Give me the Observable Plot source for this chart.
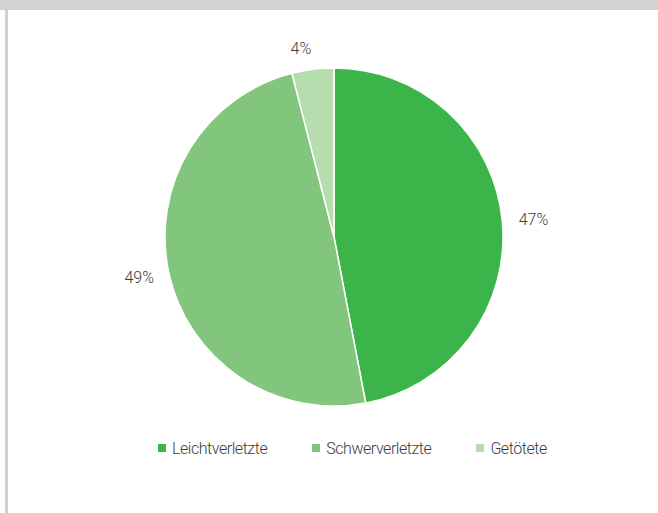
<!DOCTYPE html>
<html><head><meta charset="utf-8">
<script src="https://cdn.jsdelivr.net/npm/d3@7"></script>
<script src="https://cdn.jsdelivr.net/npm/@observablehq/plot@0.6"></script>
<style>
body{margin:0;background:#fff;}
#frame{position:relative;width:658px;height:513px;overflow:hidden;font-family:Roboto, sans-serif;}
#topband{position:absolute;left:0;top:0;width:658px;height:10px;background:#d1d2d4;}
#leftbar{position:absolute;left:5px;top:10px;width:3px;height:503px;background:#d1d2d4;}
#chart{position:absolute;left:0;top:0;}
#legend{position:absolute;left:158px;top:441px;display:flex;gap:45px;font-size:16px;line-height:16px;color:#3c3c3c;font-weight:300;letter-spacing:-0.45px;}
.item{display:flex;align-items:center;}
.sw{width:8px;height:8px;margin-right:6px;margin-top:-3px;}
</style></head><body>
<div id="frame">
<div id="topband"></div><div id="leftbar"></div>
<div id="chart"></div>
<div id="legend"></div>
</div>
<script>
const categories = ["Leichtverletzte", "Schwerverletzte", "Getötete"];
const shares = [47, 49, 4];
const valueLabels = ["47%", "49%", "4%"];
const colors = ["#3bb54a", "#82c67d", "#b5ddae"];

// layout
const W = 658, H = 430, cx = 334, cy = 237, R = 169, labelGap = 16;

const rows = categories.map((c, i) => ({category: c, value: shares[i], label: valueLabels[i], color: colors[i]}));
const arcs = d3.pie().sort(null).value(d => d.value)(rows);

const labelRows = arcs.map(a => {
  const mid = (a.startAngle + a.endAngle) / 2;
  const s = Math.sin(mid), c = Math.cos(mid);
  const k = (R + labelGap) / R;
  return {
    x: s * k, y: -c * k, label: a.data.label,
    textAnchor: s >= 0 ? "start" : "end",
    lineAnchor: c > 0.7 ? "bottom" : c < -0.7 ? "top" : "middle"
  };
});

function pieMark(index, scales) {
  const x0 = scales.x(0), y0 = scales.y(0), r = scales.x(1) - x0;
  const arc = d3.arc().innerRadius(0).outerRadius(r);
  const g = d3.create("svg:g").attr("transform", `translate(${x0},${y0})`);
  g.selectAll("path").data(arcs).join("path")
    .attr("d", arc)
    .attr("fill", d => d.data.color)
    .attr("stroke", "#fff")
    .attr("stroke-width", 1.5)
    .attr("stroke-linejoin", "round");
  return g.node();
}

const textMarks = labelRows.map(d => Plot.text([d], {
  x: "x", y: "y", text: "label",
  textAnchor: d.textAnchor, lineAnchor: d.lineAnchor,
  fontSize: 16, fill: "#3c3c3c", fontFamily: "Roboto", fontWeight: 300
}));

const chart = Plot.plot({
  width: W, height: H,
  marginTop: 0, marginRight: 0, marginBottom: 0, marginLeft: 0,
  x: {type: "linear", domain: [-cx / R, (W - cx) / R], range: [0, W], axis: null},
  y: {type: "linear", domain: [-cy / R, (H - cy) / R], range: [0, H], axis: null},
  style: {background: "transparent", overflow: "visible"},
  marks: [pieMark, ...textMarks]
});
document.getElementById("chart").appendChild(chart);

const legend = document.getElementById("legend");
rows.forEach(r => {
  const item = document.createElement("div");
  item.className = "item";
  const sw = document.createElement("span");
  sw.className = "sw";
  sw.style.background = r.color;
  const t = document.createElement("span");
  t.textContent = r.category;
  item.appendChild(sw); item.appendChild(t);
  legend.appendChild(item);
});
</script>
</body></html>
